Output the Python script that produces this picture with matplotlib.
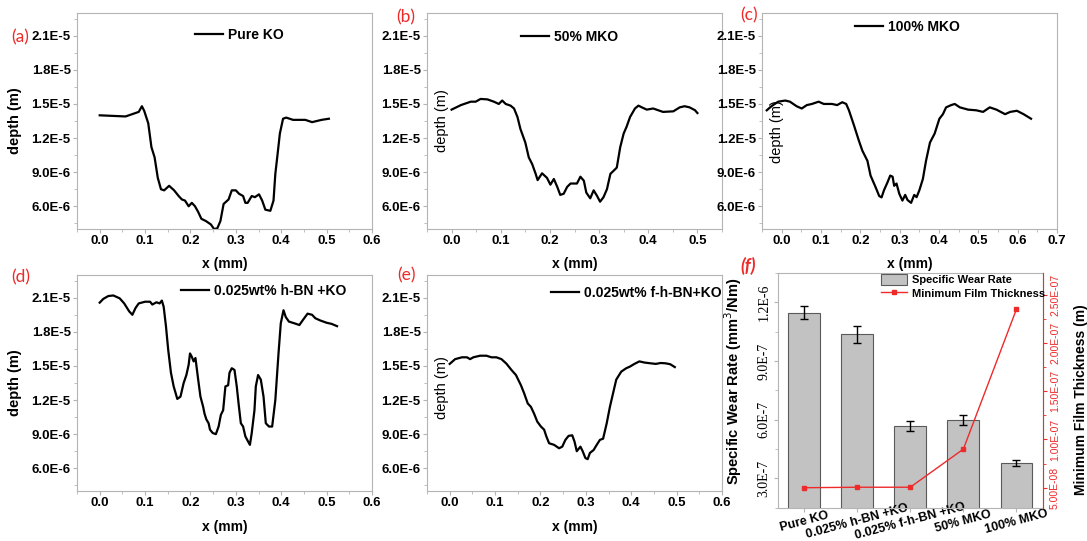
import matplotlib
matplotlib.use("Agg")
import matplotlib.pyplot as plt
from matplotlib.ticker import AutoMinorLocator, FuncFormatter, MultipleLocator

plt.rcParams['font.family'] = ['Liberation Sans', 'DejaVu Sans']

# wear-scar depth profiles (x in mm, depth in m)
ko_x = [0, 0.057, 0.086, 0.093, 0.098, 0.107, 0.114, 0.121, 0.128, 0.135, 0.142, 0.153, 0.164,
        0.174, 0.181, 0.188, 0.196, 0.203, 0.210, 0.217, 0.224, 0.234, 0.245, 0.252, 0.259,
        0.266, 0.273, 0.284, 0.291, 0.300, 0.307, 0.316, 0.321, 0.326, 0.335, 0.342, 0.351,
        0.358, 0.365, 0.376, 0.383, 0.387, 0.392, 0.397, 0.404, 0.411, 0.426, 0.453, 0.468,
        0.489, 0.505]
ko_y = [1.40e-5, 1.39e-5, 1.43e-5, 1.48e-5, 1.44e-5, 1.33e-5, 1.12e-5, 1.03e-5, 8.5e-6, 7.5e-6,
        7.4e-6, 7.8e-6, 7.4e-6, 6.9e-6, 6.6e-6, 6.5e-6, 6.0e-6, 6.3e-6, 6.0e-6, 5.5e-6, 4.9e-6,
        4.7e-6, 4.4e-6, 4.0e-6, 4.05e-6, 4.7e-6, 6.2e-6, 6.6e-6, 7.4e-6, 7.4e-6, 7.1e-6, 6.9e-6,
        6.3e-6, 6.3e-6, 6.9e-6, 6.8e-6, 7.05e-6, 6.5e-6, 5.7e-6, 5.6e-6, 6.5e-6, 8.85e-6,
        1.06e-5, 1.24e-5, 1.37e-5, 1.38e-5, 1.36e-5, 1.36e-5, 1.34e-5, 1.36e-5, 1.37e-5]

mko50_x = [0, 0.019, 0.039, 0.049, 0.059, 0.073, 0.086, 0.096, 0.103, 0.110, 0.120, 0.127, 0.134,
           0.140, 0.145, 0.150, 0.157, 0.164, 0.171, 0.175, 0.184, 0.194, 0.201, 0.208, 0.215,
           0.221, 0.228, 0.235, 0.242, 0.255, 0.262, 0.269, 0.274, 0.282, 0.289, 0.296, 0.302,
           0.309, 0.316, 0.323, 0.329, 0.336, 0.343, 0.350, 0.356, 0.363, 0.373, 0.380, 0.387,
           0.397, 0.410, 0.430, 0.451, 0.464, 0.474, 0.484, 0.495, 0.500]
mko50_y = [1.45e-5, 1.49e-5, 1.52e-5, 1.52e-5, 1.544e-5, 1.54e-5, 1.52e-5, 1.50e-5, 1.53e-5,
           1.50e-5, 1.485e-5, 1.46e-5, 1.385e-5, 1.28e-5, 1.22e-5, 1.16e-5, 1.03e-5, 9.7e-6,
           8.85e-6, 8.3e-6, 8.9e-6, 8.5e-6, 7.9e-6, 8.4e-6, 7.7e-6, 7.0e-6, 7.1e-6, 7.7e-6,
           8.0e-6, 8.0e-6, 8.6e-6, 8.25e-6, 7.2e-6, 6.7e-6, 7.4e-6, 6.9e-6, 6.4e-6, 6.8e-6,
           7.5e-6, 8.85e-6, 9.1e-6, 9.4e-6, 1.12e-5, 1.24e-5, 1.30e-5, 1.385e-5, 1.46e-5,
           1.485e-5, 1.47e-5, 1.45e-5, 1.46e-5, 1.43e-5, 1.435e-5, 1.47e-5, 1.48e-5, 1.47e-5,
           1.445e-5, 1.42e-5]

mko100_x = [-0.038, -0.026, -0.009, 0.009, 0.021, 0.038, 0.051, 0.064, 0.077, 0.094, 0.107,
            0.128, 0.141, 0.154, 0.164, 0.171, 0.184, 0.196, 0.205, 0.218, 0.226, 0.239, 0.248,
            0.254, 0.260, 0.269, 0.276, 0.282, 0.286, 0.292, 0.299, 0.307, 0.314, 0.320, 0.329,
            0.337, 0.343, 0.350, 0.359, 0.367, 0.377, 0.389, 0.401, 0.410, 0.418, 0.431, 0.440,
            0.453, 0.474, 0.495, 0.512, 0.529, 0.546, 0.568, 0.581, 0.598, 0.615, 0.634]
mko100_y = [1.444e-5, 1.48e-5, 1.52e-5, 1.53e-5, 1.52e-5, 1.48e-5, 1.46e-5, 1.49e-5, 1.50e-5,
            1.52e-5, 1.50e-5, 1.50e-5, 1.49e-5, 1.515e-5, 1.50e-5, 1.444e-5, 1.31e-5, 1.18e-5,
            1.09e-5, 1.0e-5, 8.7e-6, 7.66e-6, 6.9e-6, 6.78e-6, 7.4e-6, 8.1e-6, 8.7e-6, 8.6e-6,
            7.8e-6, 8.0e-6, 7.1e-6, 6.5e-6, 7.0e-6, 6.55e-6, 6.3e-6, 7.0e-6, 6.8e-6, 7.4e-6,
            8.4e-6, 1.0e-5, 1.16e-5, 1.24e-5, 1.37e-5, 1.41e-5, 1.47e-5, 1.49e-5, 1.50e-5,
            1.47e-5, 1.45e-5, 1.444e-5, 1.43e-5, 1.47e-5, 1.45e-5, 1.41e-5, 1.43e-5, 1.44e-5,
            1.41e-5, 1.37e-5]

hbn_x = [0, 0.008, 0.019, 0.030, 0.044, 0.054, 0.065, 0.072, 0.079, 0.086, 0.100, 0.111, 0.116,
         0.125, 0.132, 0.137, 0.141, 0.146, 0.151, 0.157, 0.163, 0.171, 0.178, 0.185, 0.191,
         0.196, 0.199, 0.203, 0.207, 0.211, 0.217, 0.222, 0.228, 0.231, 0.235, 0.240, 0.243,
         0.249, 0.256, 0.262, 0.267, 0.272, 0.277, 0.283, 0.286, 0.291, 0.297, 0.302, 0.306,
         0.311, 0.316, 0.321, 0.327, 0.331, 0.335, 0.341, 0.344, 0.349, 0.355, 0.361, 0.366,
         0.373, 0.380, 0.387, 0.394, 0.399, 0.405, 0.410, 0.417, 0.429, 0.440, 0.447, 0.458,
         0.468, 0.475, 0.486, 0.500, 0.511, 0.523]
hbn_y = [2.057e-5, 2.09e-5, 2.115e-5, 2.12e-5, 2.095e-5, 2.05e-5, 1.98e-5, 1.95e-5, 2.01e-5,
         2.05e-5, 2.065e-5, 2.065e-5, 2.04e-5, 2.06e-5, 2.05e-5, 2.075e-5, 2.02e-5, 1.85e-5,
         1.64e-5, 1.44e-5, 1.32e-5, 1.21e-5, 1.23e-5, 1.35e-5, 1.42e-5, 1.51e-5, 1.61e-5,
         1.58e-5, 1.54e-5, 1.57e-5, 1.38e-5, 1.23e-5, 1.14e-5, 1.08e-5, 1.03e-5, 9.96e-6,
         9.4e-6, 9.1e-6, 9.0e-6, 9.67e-6, 1.07e-5, 1.11e-5, 1.32e-5, 1.33e-5, 1.44e-5, 1.48e-5,
         1.465e-5, 1.32e-5, 1.17e-5, 9.96e-6, 9.67e-6, 8.8e-6, 8.35e-6, 8.06e-6, 9.1e-6,
         1.11e-5, 1.32e-5, 1.42e-5, 1.38e-5, 1.23e-5, 9.96e-6, 9.67e-6, 9.67e-6, 1.2e-5,
         1.61e-5, 1.875e-5, 1.99e-5, 1.93e-5, 1.89e-5, 1.875e-5, 1.86e-5, 1.90e-5, 1.96e-5,
         1.95e-5, 1.92e-5, 1.90e-5, 1.88e-5, 1.87e-5, 1.85e-5]

fhbn_x = [0, 0.012, 0.027, 0.038, 0.045, 0.052, 0.067, 0.081, 0.092, 0.103, 0.114, 0.125, 0.136,
          0.146, 0.157, 0.164, 0.172, 0.179, 0.186, 0.193, 0.201, 0.208, 0.213, 0.219, 0.230,
          0.241, 0.248, 0.255, 0.262, 0.270, 0.275, 0.280, 0.288, 0.293, 0.299, 0.304, 0.309,
          0.317, 0.324, 0.331, 0.338, 0.346, 0.353, 0.360, 0.367, 0.378, 0.389, 0.397, 0.407,
          0.418, 0.429, 0.443, 0.454, 0.465, 0.476, 0.486, 0.496]
fhbn_y = [1.518e-5, 1.56e-5, 1.576e-5, 1.576e-5, 1.56e-5, 1.576e-5, 1.59e-5, 1.59e-5, 1.576e-5,
          1.576e-5, 1.56e-5, 1.52e-5, 1.465e-5, 1.42e-5, 1.33e-5, 1.26e-5, 1.17e-5, 1.14e-5,
          1.08e-5, 1.01e-5, 9.67e-6, 9.4e-6, 8.8e-6, 8.2e-6, 8.06e-6, 7.76e-6, 7.9e-6, 8.5e-6,
          8.85e-6, 8.9e-6, 8.35e-6, 7.5e-6, 7.9e-6, 7.5e-6, 6.9e-6, 6.8e-6, 7.35e-6, 7.6e-6,
          8.06e-6, 8.5e-6, 8.6e-6, 9.96e-6, 1.14e-5, 1.26e-5, 1.38e-5, 1.45e-5, 1.48e-5,
          1.494e-5, 1.518e-5, 1.54e-5, 1.53e-5, 1.523e-5, 1.518e-5, 1.526e-5, 1.523e-5,
          1.515e-5, 1.49e-5]

# wear rate and film thickness summary
lubricants = ['Pure KO', '0.025% h-BN +KO', '0.025% f-h-BN +KO', '50% MKO', '100% MKO']
wear_rate = [1.147e-6, 1.036e-6, 5.69e-7, 5.97e-7, 3.77e-7]
wear_err = [3.2e-8, 4.3e-8, 2.6e-8, 2.5e-8, 1.5e-8]
film_thickness = [5.0e-8, 5.05e-8, 5.05e-8, 9.0e-8, 2.35e-7]

W, H = 1087, 541
fig = plt.figure(figsize=(W / 100, H / 100), dpi=100)


def px_axes(left, top, right, bottom):
    return fig.add_axes([left / W, 1 - bottom / H, (right - left) / W, (bottom - top) / H])


def sci1(v, pos):
    m, e = f"{v:.1E}".split("E")
    return f"{m}E{int(e)}"


def sci2(v, pos):
    return f"{v:.2E}"


GREY = '#b4b4b4'
RED = '#ee2a2a'


def depth_panel(ax, x, y, label, leg_xy, xmax, bold_ylabel, ylab_y=0.5):
    ax.plot(x, y, color='black', lw=1.6, label=label)
    ax.set_xlim(-0.05, xmax)
    ax.set_ylim(4e-6, 2.3e-5)
    ax.xaxis.set_major_locator(MultipleLocator(0.1))
    ax.xaxis.set_minor_locator(AutoMinorLocator(2))
    ax.set_yticks([6e-6, 9e-6, 1.2e-5, 1.5e-5, 1.8e-5, 2.1e-5])
    ax.yaxis.set_minor_locator(AutoMinorLocator(2))
    ax.yaxis.set_major_formatter(FuncFormatter(sci1))
    ax.xaxis.set_major_formatter(FuncFormatter(lambda v, p: f"{v:.1f}"))
    for s in ax.spines.values():
        s.set_color(GREY)
    ax.tick_params(which='both', direction='out', color=GREY, labelsize=9.5)
    ax.tick_params(which='major', length=3, pad=1.5)
    ax.tick_params(which='minor', length=2)
    for t in ax.get_xticklabels() + ax.get_yticklabels():
        t.set_fontweight('bold')
    ax.set_xlabel('x (mm)', fontsize=10, fontweight='bold')
    ax.xaxis.set_label_coords(0.5, -0.128)
    if bold_ylabel:
        ax.set_ylabel('depth (m)', fontsize=10.5, fontweight='bold')
        ax.yaxis.set_label_coords(-0.185, 0.5)
    else:
        ax.text(0.05, ylab_y, 'depth (m)', transform=ax.transAxes, rotation=90,
                ha='center', va='center', fontsize=10.5)
    ax.legend(loc='center left', bbox_to_anchor=leg_xy, frameon=False, borderpad=0,
              borderaxespad=0, handlelength=2.0, handletextpad=0.35,
              prop={'weight': 'bold', 'size': 10})


ax_a = px_axes(77, 13, 372, 229)
depth_panel(ax_a, ko_x, ko_y, 'Pure KO', (0.40, 0.898), 0.6, True)
ax_b = px_axes(427, 13, 722, 229)
depth_panel(ax_b, mko50_x, mko50_y, '50% MKO', (0.32, 0.89), 0.55, False, 0.503)
ax_c = px_axes(762, 13, 1057, 229)
depth_panel(ax_c, mko100_x, mko100_y, '100% MKO', (0.315, 0.937), 0.7, False, 0.45)
ax_d = px_axes(77, 275, 372, 491)
depth_panel(ax_d, hbn_x, hbn_y, '0.025wt% h-BN +KO', (0.353, 0.926), 0.6, True)
ax_d.xaxis.set_label_coords(0.5, -0.132)
ax_e = px_axes(427, 275, 722, 491)
depth_panel(ax_e, fhbn_x, fhbn_y, '0.025wt% f-h-BN+KO', (0.42, 0.918), 0.6, False, 0.479)
ax_e.xaxis.set_label_coords(0.5, -0.132)

# (f) specific wear rate bars with film thickness on a twin axis
ax_f = px_axes(777.5, 273, 1043, 507.7)
pos = list(range(len(lubricants)))
bars = ax_f.bar(pos, wear_rate, width=0.6, color='#c2c2c2', edgecolor='#5a5a5a', lw=0.8,
                yerr=wear_err, capsize=3, error_kw={'ecolor': 'black', 'elinewidth': 1},
                label='Specific Wear Rate')
ax_f.set_xlim(-0.5, 4.5)
ax_f.set_ylim(1.5e-7, 1.35e-6)
ax_f.set_yticks([3e-7, 6e-7, 9e-7, 1.2e-6])
ax_f.yaxis.set_minor_locator(AutoMinorLocator(2))
ax_f.yaxis.set_major_formatter(FuncFormatter(sci1))
ax_f.set_xticks(pos)
ax_f.set_xticklabels(lubricants, fontsize=9, fontweight='bold')
plt.setp(ax_f.get_xticklabels(), rotation=15, ha='center', va='center', rotation_mode='anchor')
for t in ax_f.get_yticklabels():
    t.set_fontfamily('Liberation Serif')
    t.set_fontsize(10)
    t.set_rotation(90)
    t.set_va('center')
ax_f.tick_params(which='both', direction='out', color=GREY)
ax_f.tick_params(axis='y', which='major', length=3, pad=2)
ax_f.tick_params(axis='y', which='minor', length=2)
ax_f.tick_params(axis='x', length=3, pad=7)
for s in ax_f.spines.values():
    s.set_color(GREY)
ax_f.set_ylabel('Specific Wear Rate (mm$^3$/Nm)', fontsize=10.5, fontweight='bold')
ax_f.yaxis.set_label_coords(-0.128, 0.537)

tw = ax_f.twinx()
line, = tw.plot(pos, film_thickness, color=RED, lw=1, marker='s', ms=3.5,
                label='Minimum Film Thickness')
tw.set_ylim(2.93e-8, 2.725e-7)
tw.set_yticks([5e-8, 1e-7, 1.5e-7, 2e-7, 2.5e-7])
tw.yaxis.set_minor_locator(AutoMinorLocator(2))
tw.yaxis.set_major_formatter(FuncFormatter(sci2))
tw.spines['right'].set_color(RED)
for s in ('left', 'top', 'bottom'):
    tw.spines[s].set_visible(False)
tw.tick_params(axis='y', which='both', direction='out', colors=RED, labelsize=7.5)
tw.tick_params(axis='y', which='major', length=3, pad=2)
tw.tick_params(axis='y', which='minor', length=2)
for t in tw.get_yticklabels():
    t.set_rotation(90)
    t.set_va('center')
tw.set_ylabel('Minimum Film Thickness (m)', fontsize=10, fontweight='bold', color='black')
tw.yaxis.set_label_coords(1.117, 0.46)
tw.legend([bars, line], ['Specific Wear Rate', 'Minimum Film Thickness'], loc='upper left',
          bbox_to_anchor=(0.385, 1.0), frameon=False, borderpad=0.1, borderaxespad=0,
          handlelength=2.4, handleheight=1.1, handletextpad=0.4, labelspacing=0.2,
          prop={'weight': 'bold', 'size': 8})

# panel letters
for txt, x, y in [('(a)', 20, 37), ('(b)', 406, 17), ('(c)', 749, 15),
                  ('(d)', 21, 277), ('(e)', 407, 275)]:
    fig.text(x / W, 1 - y / H, txt, color=RED, fontsize=12.5, ha='center', va='center',
             family=['Lato', 'DejaVu Sans'])
fig.text(748 / W, 1 - 266 / H, '(f)', color=RED, fontsize=13, ha='center', va='center',
         fontweight='bold', fontstyle='italic', family=['Lato', 'DejaVu Sans'])

fig.savefig('out.png', dpi=100)
